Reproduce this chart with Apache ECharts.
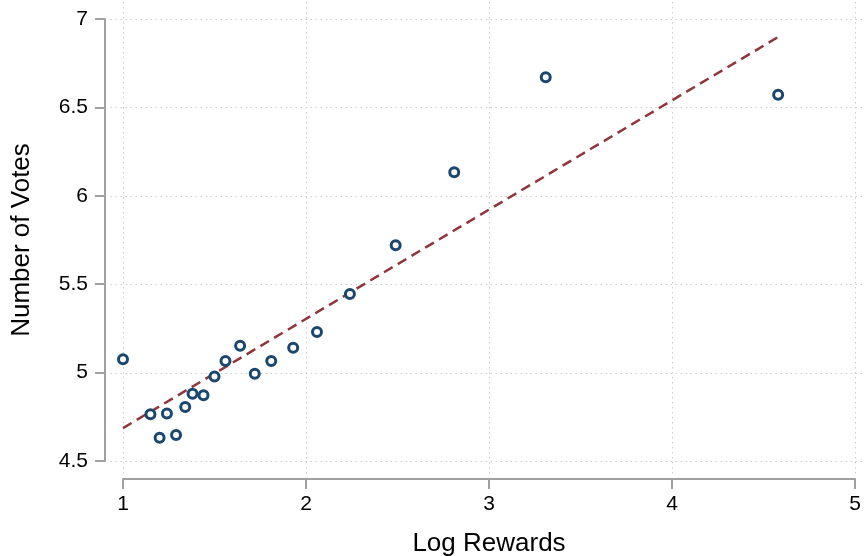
<!DOCTYPE html>
<html>
<head>
<meta charset="utf-8">
<script src="https://cdn.jsdelivr.net/npm/echarts@6/dist/echarts.min.js"></script>
<style>html,body{margin:0;padding:0;background:#fff}#c{width:865px;height:556px}</style>
</head>
<body>
<div id="c"></div>
<script>
// Data
const logRewards = [1.00, 1.15, 1.20, 1.24, 1.29, 1.34, 1.38, 1.44, 1.50, 1.56, 1.64, 1.72, 1.81, 1.93, 2.06, 2.24, 2.49, 2.81, 3.31, 4.58];
const numVotes   = [5.075, 4.765, 4.632, 4.768, 4.647, 4.805, 4.88, 4.872, 4.978, 5.065, 5.152, 4.993, 5.065, 5.14, 5.23, 5.445, 5.72, 6.133, 6.67, 6.572];
const fitX = [1.00, 4.58];
const fitY = [4.686, 6.898];
const xTicks = [1, 2, 3, 4, 5];
const yTicks = [4.5, 5, 5.5, 6, 6.5, 7];

// extents of the dotted grid lines (plot region is a little larger than the axes)
const gridX = [0.93, 5.06];
const gridY = [4.43, 7.11];

const font = '"Liberation Sans", Arial, Helvetica, sans-serif';
const gridStyle = {stroke: '#cccccc', lineWidth: 1, lineDash: [1.5, 3.5]};

function gridLineSeries(ticks, vertical) {
  return {
    type: 'custom',
    silent: true,
    clip: false,
    z: 1,
    data: ticks.map(v => vertical ? [v, yTicks[0]] : [xTicks[0], v]),
    renderItem: function (params, api) {
      const v = vertical ? api.value(0) : api.value(1);
      const p1 = vertical ? api.coord([v, gridY[0]]) : api.coord([gridX[0], v]);
      const p2 = vertical ? api.coord([v, gridY[1]]) : api.coord([gridX[1], v]);
      return {
        type: 'line',
        shape: {x1: Math.round(p1[0]) + 0.5, y1: Math.round(p1[1]) + 0.5, x2: Math.round(p2[0]) + 0.5, y2: Math.round(p2[1]) + 0.5},
        style: gridStyle
      };
    }
  };
}

const chart = echarts.init(document.getElementById('c'), null, {renderer: 'canvas'});
chart.setOption({
  animation: false,
  grid: {left: 123, right: 10, top: 19, bottom: 95, outerBoundsMode: 'none', containLabel: false},
  xAxis: {
    type: 'value', min: xTicks[0], max: xTicks[xTicks.length - 1], interval: 1,
    offset: 18,
    name: 'Log Rewards', nameLocation: 'middle', nameGap: 52,
    nameTextStyle: {fontFamily: font, fontSize: 26, color: '#000'},
    axisLine: {show: true, onZero: false, lineStyle: {color: '#a0a0a0', width: 2}},
    axisTick: {show: true, length: 10, lineStyle: {color: '#a0a0a0', width: 2}},
    axisLabel: {fontFamily: font, fontSize: 21, color: '#000', margin: 15},
    splitLine: {show: false}
  },
  yAxis: {
    type: 'value', min: yTicks[0], max: yTicks[yTicks.length - 1], interval: 0.5,
    offset: 18,
    name: 'Number of Votes', nameLocation: 'middle', nameGap: 70,
    nameTextStyle: {fontFamily: font, fontSize: 26, color: '#000'},
    axisLine: {show: true, onZero: false, lineStyle: {color: '#a0a0a0', width: 2}},
    axisTick: {show: true, length: 10, lineStyle: {color: '#a0a0a0', width: 2}},
    axisLabel: {fontFamily: font, fontSize: 21, color: '#000', margin: 17},
    splitLine: {show: false}
  },
  series: [
    gridLineSeries(xTicks, true),
    gridLineSeries(yTicks, false),
    {
      type: 'line',
      data: fitX.map((x, i) => [x, fitY[i]]),
      symbol: 'none',
      lineStyle: {color: '#90353b', width: 2.5, type: [10, 6]},
      z: 2
    },
    {
      type: 'scatter',
      data: logRewards.map((x, i) => [x, numVotes[i]]),
      symbol: 'circle',
      symbolSize: 9,
      itemStyle: {color: '#ffffff', borderColor: '#1a476f', borderWidth: 3, opacity: 1},
      z: 3
    }
  ]
});
</script>
</body>
</html>
